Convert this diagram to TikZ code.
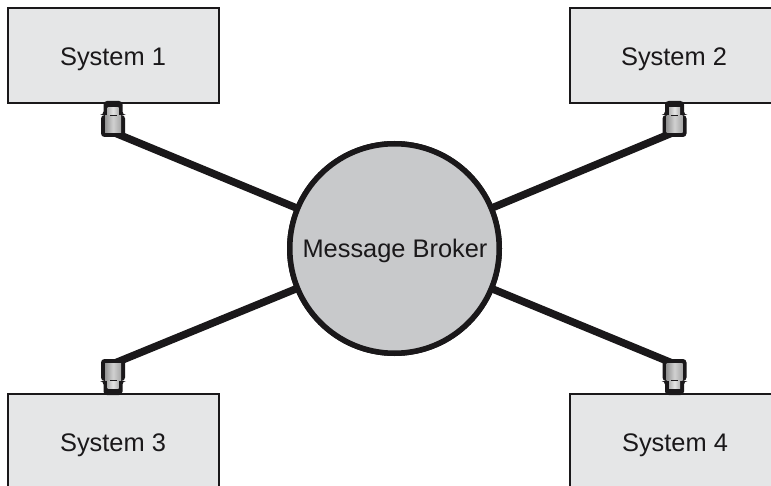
\documentclass[tikz,border=0pt]{standalone}
\usepackage{fontspec}
\setmainfont{Liberation Sans}
\definecolor{boxfill}{HTML}{E5E6E7}
\definecolor{brokerfill}{HTML}{C8C9CB}
\definecolor{ink}{HTML}{1A181A}
\tikzset{
  sysbox/.style={draw=ink,line width=2pt,fill=boxfill,minimum width=211pt,inner sep=0pt,anchor=north west},
  syslabel/.style={font=\fontsize{25.4}{28}\selectfont,text=ink,inner sep=0pt},
  broker/.style={circle,draw=ink,line width=5.5pt,fill=brokerfill,minimum size=209.5pt,inner sep=0pt},
  link/.style={draw=ink,line width=7.5pt},
  pics/plug/.style={code={
    \fill[ink,rounded corners=3.5pt] (-12,17) -- (-12,-5) -- (-9.5,-5) -- (-9.5,-19) -- (9.5,-19) -- (9.5,-5) -- (12,-5) -- (12,17) -- cycle;
    \shade[left color=black!30,right color=black!30,middle color=black!10] (-5.5,-12) rectangle (5.5,-4);
    \shade[left color=black!42,right color=black!35,middle color=black!18] (-8,-4) rectangle (8,13);
    \fill[ink] (-3.5,-5) rectangle (3.5,-3.6);
  }}
}
\begin{document}
\begin{tikzpicture}[x=1pt,y=-1pt]
\useasboundingbox (0,0) rectangle (771,486);
\clip (0,0) rectangle (771,486);
\fill[white] (0,0) rectangle (771,486);
\node[broker] (mb) at (394.5,248.5) {};
\coordinate (p1) at (113,120);
\coordinate (p2) at (674.5,120);
\coordinate (p3) at (113,376);
\coordinate (p4) at (674.5,376);
\coordinate (a1) at (115,133);
\coordinate (a2) at (672,133);
\coordinate (a3) at (115,363);
\coordinate (a4) at (672,363);
\draw[link] (a1) -- (mb.center);
\draw[link] (a2) -- (mb.center);
\draw[link] (a3) -- (mb.center);
\draw[link] (a4) -- (mb.center);
\node[broker] (mbtop) at (394.5,248.5) {};
\node[syslabel] (mbl) at (395,251) {Message Broker};
\node[sysbox,minimum height=95pt] (s1) at (7,7.5) {};
\node[sysbox,minimum height=95pt] (s2) at (569,7.5) {};
\node[sysbox,minimum height=110pt] (s3) at (7,392.5) {};
\node[sysbox,minimum height=110pt] (s4) at (569,392.5) {};
\node[syslabel] (t1) at (113,59) {System 1};
\node[syslabel] (t2) at (674,59) {System 2};
\node[syslabel] (t3) at (113,445) {System 3};
\node[syslabel] (t4) at (675,445) {System 4};
\pic at (p1) {plug};
\pic at (p2) {plug};
\pic[yscale=-1] at (p3) {plug};
\pic[yscale=-1] at (p4) {plug};
\end{tikzpicture}
\end{document}
